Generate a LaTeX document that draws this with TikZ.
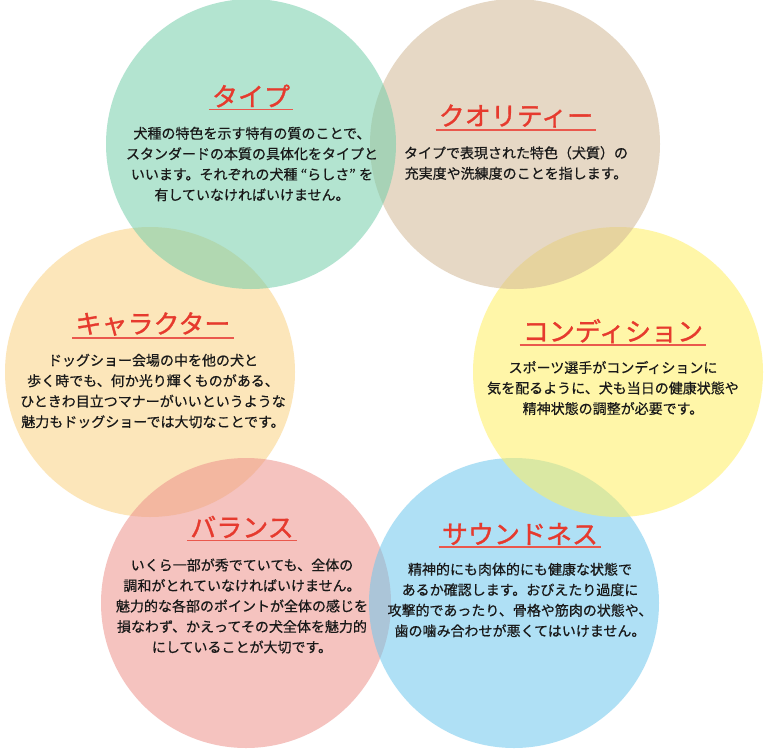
\documentclass[tikz,border=0pt]{standalone}
\usepackage{fontspec}
\setmainfont{Noto Sans CJK JP}
\newfontfamily\titlefont[FakeBold=1.2]{Noto Sans CJK JP}
\newfontfamily\bodyfont[FakeBold=0.6]{Noto Sans CJK JP}
\begin{document}
\begin{tikzpicture}[x=1pt,y=-1pt,
  bubble/.style={fill=#1,fill opacity=0.55,draw=none},
  ttl/.style={text=titlered,font=\titlefont\fontsize{26}{28}\selectfont,inner sep=1pt,anchor=center},
  uline/.style={draw=titlered!85,line width=1.6pt},
  body/.style={text=black!90,font=\bodyfont\fontsize{14}{20.5}\selectfont,align=center,inner sep=0pt,anchor=center}]
\definecolor{cteal}{RGB}{117,206,171}
\definecolor{cbrown}{RGB}{210,184,150}
\definecolor{cyellow}{RGB}{255,240,97}
\definecolor{cblue}{RGB}{111,199,237}
\definecolor{cpink}{RGB}{237,146,140}
\definecolor{corange}{RGB}{250,210,131}
\definecolor{titlered}{RGB}{230,58,46}
\useasboundingbox (0,0) rectangle (768,750);
\fill[white] (0,0) rectangle (768,750);
% circles
\fill[bubble=corange] (150,372) circle[radius=145pt];
\fill[bubble=cpink] (246,603) circle[radius=145pt];
\fill[bubble=cblue] (514,603) circle[radius=145pt];
\fill[bubble=cyellow] (618,372) circle[radius=145pt];
\fill[bubble=cbrown] (515,144) circle[radius=145pt];
\fill[bubble=cteal] (251,144) circle[radius=145pt];
% titles
\node[ttl] (t1) at (251,96) {タイプ};
\node[ttl] (t2) at (516,116) {クオリティー};
\node[ttl] (t3) at (153,324) {キャラクター};
\node[ttl] (t4) at (613,331) {コンディション};
\node[ttl] (t5) at (242,527) {バランス};
\node[ttl] (t6) at (520,534) {サウンドネス};
\foreach \t in {t1,t2,t3,t4,t5,t6}
  \draw[uline] ([xshift=-2pt,yshift=-1pt]\t.south west) -- ([xshift=2pt,yshift=-1pt]\t.south east);
% bodies
\node[body] (b1) at (252,164) {犬種の特色を示す特有の質のことで、\\スタンダードの本質の具体化をタイプと\\いいます。それぞれの犬種\ “らしさ”\ を\\有していなければいけません。};
\node[body] (b2) at (516,163) {タイプで表現された特色（犬質）の\\充実度や洗練度のことを指します。};
\node[body] (b3) at (153,391) {ドッグショー会場の中を他の犬と\\歩く時でも、何か光り輝くものがある、\\ひときわ目立つマナーがいいというような\\魅力もドッグショーでは大切なことです。};
\node[body] (b4) at (613,388) {スポーツ選手がコンディションに\\気を配るように、犬も当日の健康状態や\\精神状態の調整が必要です。};
\node[body] (b5) at (242,606) {いくら一部が秀でていても、全体の\\調和がとれていなければいけません。\\魅力的な各部のポイントが全体の感じを\\損なわず、かえってその犬全体を魅力的\\にしていることが大切です。};
\node[body] (b6) at (520,600) {精神的にも肉体的にも健康な状態で\\あるか確認します。おびえたり過度に\\攻撃的であったり、骨格や筋肉の状態や、\\歯の噛み合わせが悪くてはいけません。};
\end{tikzpicture}
\end{document}
